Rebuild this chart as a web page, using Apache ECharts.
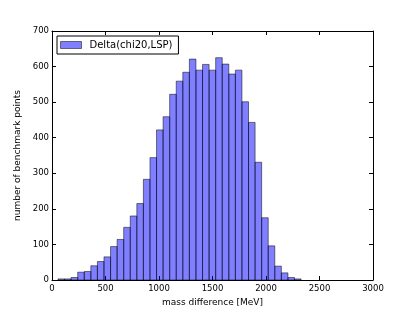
<!DOCTYPE html>
<html>
<head>
<meta charset="utf-8">
<script src="https://cdn.jsdelivr.net/npm/echarts@6/dist/echarts.min.js"></script>
<style>html,body{margin:0;padding:0;background:#fff}#c{width:415px;height:312px}</style>
</head>
<body>
<div id="c"></div>
<script>
// Histogram bin edges (MeV)
const binEdges = [56, 117.4, 178.8, 240.2, 301.6, 363, 424.4, 485.8, 547.2, 608.6, 670, 731.4, 792.8, 854.2, 915.6, 977, 1038.4, 1099.8, 1161.2, 1222.6, 1284, 1345.4, 1406.8, 1468.2, 1529.6, 1591, 1652.4, 1713.8, 1775.2, 1836.6, 1898, 1959.4, 2020.8, 2082.2, 2143.6, 2205, 2266.4, 2327.8];
// Counts per bin
const counts = [3, 3, 7, 22, 24, 40, 52, 65, 94, 114, 148, 180, 215, 283, 344, 422, 459, 522, 559, 584, 621, 590, 606, 590, 625, 607, 579, 590, 501, 443, 331, 175, 96, 39, 20, 7, 3];
const seriesName = 'Delta(chi20,LSP)';
const xTitle = 'mass difference [MeV]';
const yTitle = 'number of benchmark points';

const data = counts.map((c, i) => [binEdges[i], binEdges[i + 1], c]);
const FONT = 'DejaVu Sans';
const fill = 'rgba(0,0,255,0.5)';
const edge = 'rgba(0,0,0,0.5)';

const chart = echarts.init(document.getElementById('c'), null, {renderer: 'canvas'});
const axisCommon = {
  axisLine: {show: true, onZero: false, lineStyle: {color: '#000', width: 1}},
  axisTick: {show: true, inside: true, length: 4, lineStyle: {color: '#000'}},
  splitLine: {show: false}
};
const plain = v => String(v);
chart.setOption({
  animation: false,
  backgroundColor: '#fff',
  textStyle: {fontFamily: FONT},
  grid: {left: 52, right: 42, top: 31, bottom: 32},
  legend: {
    left: 57, top: 36,
    data: [seriesName],
    orient: 'vertical',
    backgroundColor: '#fff',
    borderColor: '#000', borderWidth: 1, borderRadius: 0,
    padding: [4, 6, 4, 3],
    itemWidth: 21, itemHeight: 7, itemGap: 0,
    icon: 'rect',
    itemStyle: {color: fill, borderColor: edge, borderWidth: 1},
    textStyle: {fontFamily: FONT, fontSize: 10, color: '#000', padding: [0, 0, 0, 3]}
  },
  xAxis: [
    Object.assign({
      type: 'value', min: 0, max: 3000, interval: 500, position: 'bottom',
      name: xTitle, nameLocation: 'middle', nameGap: 15,
      nameTextStyle: {fontFamily: FONT, fontSize: 9, color: '#000'},
      axisLabel: {fontFamily: FONT, fontSize: 8.5, color: '#000', margin: 4, formatter: plain}
    }, axisCommon),
    Object.assign({
      type: 'value', min: 0, max: 3000, interval: 500, position: 'top',
      axisLabel: {show: false}
    }, axisCommon)
  ],
  yAxis: [
    Object.assign({
      type: 'value', min: 0, max: 700, interval: 100, position: 'left',
      name: yTitle, nameLocation: 'middle', nameGap: 18,
      nameTextStyle: {fontFamily: FONT, fontSize: 9, color: '#000'},
      axisLabel: {fontFamily: FONT, fontSize: 8.5, color: '#000', margin: 3, formatter: plain}
    }, axisCommon),
    Object.assign({
      type: 'value', min: 0, max: 700, interval: 100, position: 'right',
      axisLabel: {show: false}
    }, axisCommon)
  ],
  series: [{
    name: seriesName,
    type: 'custom',
    xAxisIndex: 0, yAxisIndex: 0,
    itemStyle: {color: fill, borderColor: edge, borderWidth: 1},
    encode: {x: [0, 1], y: 2},
    data: data,
    renderItem: function (params, api) {
      const p0 = api.coord([api.value(0), api.value(2)]);
      const p1 = api.coord([api.value(1), 0]);
      return {
        type: 'rect',
        shape: {x: p0[0], y: p0[1], width: p1[0] - p0[0], height: p1[1] - p0[1]},
        style: {fill: fill, stroke: edge, lineWidth: 1}
      };
    }
  }]
});
</script>
</body>
</html>
